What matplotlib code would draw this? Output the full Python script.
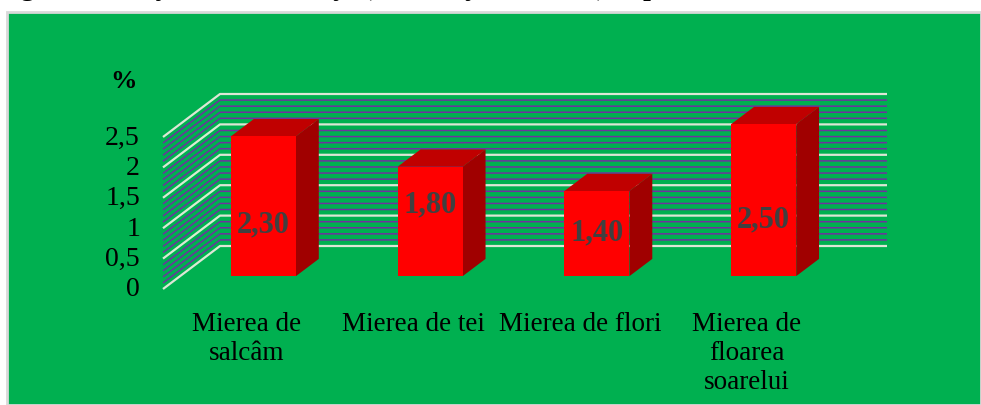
import matplotlib
matplotlib.use("Agg")
import matplotlib.pyplot as plt
from matplotlib.patches import Rectangle, Polygon

# ---- data ----
categories = ["Mierea de\nsalcâm", "Mierea de tei", "Mierea de flori", "Mierea de\nfloarea\nsoarelui"]
values = [2.30, 1.80, 1.40, 2.50]
value_labels = ["2,30", "1,80", "1,40", "2,50"]
ytick_vals = [0, 0.5, 1, 1.5, 2, 2.5]
ytick_labels = ["0", "0,5", "1", "1,5", "2", "2,5"]
title = "Fig. 130. Conţinutul de cenuşă (substanţe minerale) în probele de miere analizate"

# label vertical placement (value units, as placed in original)
label_pos = [1.07, 1.40, 0.94, 1.15]

W, H = 981, 406
fig = plt.figure(figsize=(W / 100, H / 100), dpi=100)
fig.patch.set_facecolor("white")

GREEN = "#00B050"
bg = Rectangle((7 / W, 0), 1 - 7 / W, (H - 13) / H, transform=fig.transFigure,
               facecolor=GREEN, edgecolor="#D9D9D9", linewidth=2, zorder=-5)
fig.patches.append(bg)

fig.text(-4 / W, 1 + 5 / H, title, fontsize=20, fontweight="bold",
         family="Liberation Serif", va="baseline", ha="left", zorder=-4)

# axes placement: x=0 -> px 163, 1 cat = 166.75 px ; y=0 -> px 290, 1 unit = 60.8 px
px0, sx = 163.0, 166.75
py0, sy = 290.0, 60.8
xlim = (-0.9, 4.9)
ylim = (-1.9, 3.6)
L = px0 + sx * xlim[0]
R = px0 + sx * xlim[1]
B = py0 - sy * ylim[0]
T = py0 - sy * ylim[1]
ax = fig.add_axes([L / W, 1 - B / H, (R - L) / W, (B - T) / H])
ax.set_zorder(2)
ax.set_xlim(*xlim)
ax.set_ylim(*ylim)
ax.axis("off")
ax.patch.set_visible(False)

# depth offsets
DX = 57 / sx
DY = 43 / sy
n = len(categories)

# grid lines
ymax = 2.5
steps = [round(i * 0.1, 2) for i in range(int(ymax / 0.1) + 1)]
for v in steps:
    major = abs(v / 0.5 - round(v / 0.5)) < 1e-6
    col = "#DDE6D6" if major else "#7030A0"
    lw = 1.6 if major else 1.1
    ax.plot([0, DX, n + DX], [v, v + DY, v + DY], color=col, lw=lw, zorder=1,
            solid_capstyle="butt")

# bars
f0 = 0.30
bw = 0.39
bd = 0.40
ox, oy = f0 * DX, f0 * DY
bdx, bdy = bd * DX, bd * DY
for i, v in enumerate(values):
    x0 = i + 0.5 - bw / 2 + ox
    x1 = x0 + bw
    y0 = oy
    y1 = oy + v
    ax.add_patch(Polygon([(x1, y0), (x1 + bdx, y0 + bdy), (x1 + bdx, y1 + bdy), (x1, y1)],
                         closed=True, facecolor="#A00000", edgecolor="none", zorder=3))
    ax.add_patch(Polygon([(x0, y1), (x1, y1), (x1 + bdx, y1 + bdy), (x0 + bdx, y1 + bdy)],
                         closed=True, facecolor="#C00000", edgecolor="none", zorder=3))
    ax.add_patch(Rectangle((x0, y0), bw, v, facecolor="#FF0000", edgecolor="none", zorder=4))
    ax.text((x0 + x1) / 2, label_pos[i], value_labels[i], ha="center", va="center",
            fontsize=22, fontweight="bold", family="Liberation Serif", color="#404040", zorder=5)

# y tick labels (front plane)
for v, lab in zip(ytick_vals, ytick_labels):
    ax.annotate(lab, xy=(0, v), xytext=(-23, 0), textcoords="offset pixels",
                ha="right", va="center", fontsize=20, family="Liberation Serif", color="black")

ax.annotate("%", xy=(0, ymax), xytext=(-39, 56), textcoords="offset pixels",
            ha="center", va="center", fontsize=19, fontweight="bold",
            family="Liberation Serif", color="black")

# category labels
for i, c in enumerate(categories):
    ax.annotate(c, xy=(i + 0.5, 0), xytext=(0, -22), textcoords="offset pixels",
                ha="center", va="top", fontsize=19.5, family="Liberation Serif",
                color="black", linespacing=1.22)

fig.savefig("out.png", dpi=100, facecolor=fig.get_facecolor())
